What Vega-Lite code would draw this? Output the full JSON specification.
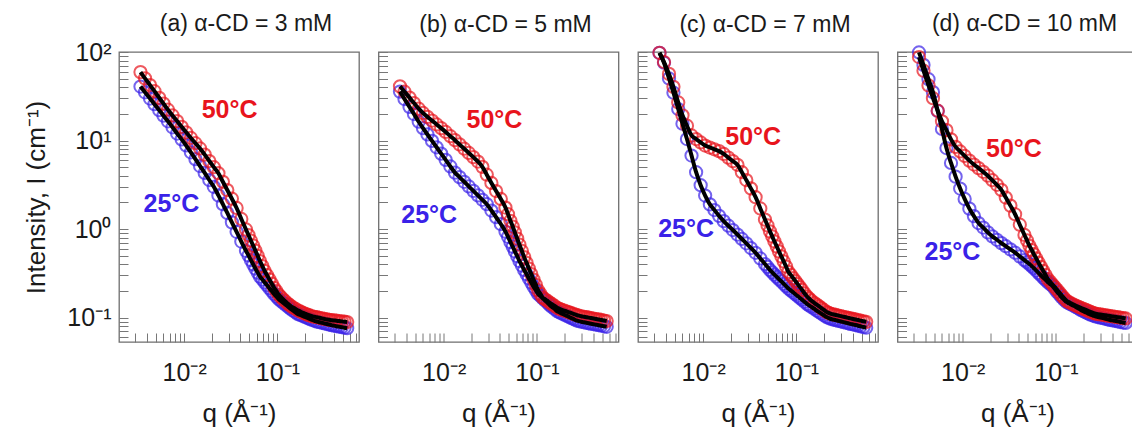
{
  "$schema": "https://vega.github.io/schema/vega-lite/v6.json",
  "background": "white",
  "padding": {"left": 23, "top": 12, "right": 0, "bottom": 0},
  "bounds": "flush",
  "spacing": 19.5,
  "config": {
    "font": "Liberation Sans",
    "view": {"stroke": "#6e6e6e", "strokeWidth": 1.3},
    "axis": {
      "domain": false,
      "grid": false,
      "tickColor": "#777777",
      "tickWidth": 1,
      "labelFont": "Liberation Sans",
      "labelFontSize": 25,
      "labelColor": "#1a1a1a",
      "labelOverlap": false,
      "labelFlush": false,
      "titleFont": "Liberation Sans",
      "titleFontSize": 26,
      "titleFontWeight": "normal",
      "titleColor": "#1a1a1a"
    },
    "title": {"font": "Liberation Sans", "fontSize": 23, "fontWeight": "normal", "color": "#1a1a1a", "dx": 7}
  },
  "datasets": {
    "notes": [
      {"p": "a", "T": "50", "label": "50°C", "q": 0.0307, "I": 22.1},
      {"p": "a", "T": "25", "label": "25°C", "q": 0.0073, "I": 1.92},
      {"p": "b", "T": "50", "label": "50°C", "q": 0.035, "I": 16.9},
      {"p": "b", "T": "25", "label": "25°C", "q": 0.007, "I": 1.43},
      {"p": "c", "T": "50", "label": "50°C", "q": 0.0344, "I": 10.9},
      {"p": "c", "T": "25", "label": "25°C", "q": 0.00656, "I": 1.01},
      {"p": "d", "T": "50", "label": "50°C", "q": 0.0355, "I": 8.09},
      {"p": "d", "T": "25", "label": "25°C", "q": 0.00776, "I": 0.553}
    ],
    "a50": [
      {"q":0.0034,"I":59.3},{"q":0.0038,"I":50.4},{"q":0.0043,"I":42.3},{"q":0.0048,"I":36.1},{"q":0.0054,"I":30.4},
      {"q":0.006,"I":26.1},{"q":0.0067,"I":22.3},{"q":0.0075,"I":19.2},{"q":0.0084,"I":16.6},{"q":0.0094,"I":14.3},
      {"q":0.0105,"I":12.4},{"q":0.0118,"I":10.7},{"q":0.0132,"I":9.33},{"q":0.0148,"I":8.13},{"q":0.0166,"I":6.93},
      {"q":0.0186,"I":5.87},{"q":0.0208,"I":5.0},{"q":0.0233,"I":4.27},{"q":0.026,"I":3.42},{"q":0.029,"I":2.76},
      {"q":0.0325,"I":2.2},{"q":0.0365,"I":1.73},{"q":0.041,"I":1.3},{"q":0.046,"I":0.989},{"q":0.049,"I":0.854},
      {"q":0.052,"I":0.738},{"q":0.055,"I":0.649},{"q":0.058,"I":0.571},{"q":0.0615,"I":0.498},{"q":0.065,"I":0.435},
      {"q":0.069,"I":0.382},{"q":0.073,"I":0.336},{"q":0.0775,"I":0.301},{"q":0.082,"I":0.27},{"q":0.087,"I":0.242},
      {"q":0.092,"I":0.217},{"q":0.0975,"I":0.199},{"q":0.103,"I":0.182},{"q":0.109,"I":0.171},{"q":0.115,"I":0.161},
      {"q":0.122,"I":0.152},{"q":0.13,"I":0.143},{"q":0.137,"I":0.137},{"q":0.145,"I":0.131},{"q":0.155,"I":0.126},
      {"q":0.165,"I":0.121},{"q":0.175,"I":0.1175},{"q":0.185,"I":0.114},{"q":0.197,"I":0.111},{"q":0.21,"I":0.108},
      {"q":0.222,"I":0.1057},{"q":0.235,"I":0.1035},{"q":0.25,"I":0.1022},{"q":0.265,"I":0.101},{"q":0.282,"I":0.0995},
      {"q":0.3,"I":0.098},{"q":0.32,"I":0.0966},{"q":0.34,"I":0.0953},{"q":0.36,"I":0.0944},{"q":0.38,"I":0.0935},
      {"q":0.405,"I":0.0928},{"q":0.43,"I":0.0922},{"q":0.46,"I":0.0914},{"q":0.49,"I":0.0906},{"q":0.525,"I":0.0898},
      {"q":0.56,"I":0.0891}
    ],
    "a25": [
      {"q":0.0034,"I":40.7},{"q":0.0038,"I":35.1},{"q":0.0043,"I":29.8},{"q":0.0048,"I":25.7},{"q":0.0054,"I":22.0},
      {"q":0.006,"I":19.1},{"q":0.0067,"I":16.5},{"q":0.0075,"I":14.1},{"q":0.0084,"I":12.0},{"q":0.0094,"I":10.3},
      {"q":0.0105,"I":8.79},{"q":0.0118,"I":7.36},{"q":0.0132,"I":6.17},{"q":0.0148,"I":5.15},{"q":0.0166,"I":4.3},
      {"q":0.0186,"I":3.58},{"q":0.0208,"I":3.0},{"q":0.0233,"I":2.4},{"q":0.026,"I":1.91},{"q":0.029,"I":1.52},
      {"q":0.0325,"I":1.19},{"q":0.0365,"I":0.931},{"q":0.041,"I":0.723},{"q":0.046,"I":0.568},{"q":0.049,"I":0.503},
      {"q":0.052,"I":0.445},{"q":0.055,"I":0.399},{"q":0.058,"I":0.358},{"q":0.0615,"I":0.322},{"q":0.065,"I":0.29},
      {"q":0.069,"I":0.269},{"q":0.073,"I":0.25},{"q":0.0775,"I":0.232},{"q":0.082,"I":0.215},{"q":0.087,"I":0.1994},
      {"q":0.092,"I":0.185},{"q":0.0975,"I":0.173},{"q":0.103,"I":0.162},{"q":0.109,"I":0.154},{"q":0.115,"I":0.147},
      {"q":0.122,"I":0.14},{"q":0.13,"I":0.133},{"q":0.137,"I":0.127},{"q":0.145,"I":0.121},{"q":0.155,"I":0.1154},
      {"q":0.165,"I":0.11},{"q":0.175,"I":0.1073},{"q":0.185,"I":0.1047},{"q":0.197,"I":0.1018},{"q":0.21,"I":0.0989},
      {"q":0.222,"I":0.0964},{"q":0.235,"I":0.094},{"q":0.25,"I":0.092},{"q":0.265,"I":0.09},{"q":0.282,"I":0.0886},
      {"q":0.3,"I":0.0873},{"q":0.32,"I":0.0859},{"q":0.34,"I":0.0846},{"q":0.36,"I":0.0834},{"q":0.38,"I":0.0822},
      {"q":0.405,"I":0.0811},{"q":0.43,"I":0.08},{"q":0.46,"I":0.079},{"q":0.49,"I":0.078},{"q":0.525,"I":0.0769},
      {"q":0.56,"I":0.0759}
    ],
    "b50": [
      {"q":0.0034,"I":40.9},{"q":0.0038,"I":35.6},{"q":0.0043,"I":30.5},{"q":0.0048,"I":26.5},{"q":0.0054,"I":22.9},
      {"q":0.006,"I":20.5},{"q":0.0067,"I":18.5},{"q":0.0075,"I":16.8},{"q":0.0084,"I":15.2},{"q":0.0094,"I":13.8},
      {"q":0.0105,"I":12.5},{"q":0.0118,"I":11.2},{"q":0.0132,"I":10.1},{"q":0.0148,"I":9.04},{"q":0.0166,"I":8.09},
      {"q":0.0186,"I":7.24},{"q":0.0208,"I":6.49},{"q":0.0233,"I":5.79},{"q":0.026,"I":5.04},{"q":0.029,"I":4.11},
      {"q":0.0325,"I":3.32},{"q":0.0365,"I":2.69},{"q":0.041,"I":2.19},{"q":0.046,"I":1.75},{"q":0.049,"I":1.473},
      {"q":0.052,"I":1.24},{"q":0.055,"I":1.067},{"q":0.058,"I":0.918},{"q":0.0615,"I":0.781},{"q":0.065,"I":0.665},
      {"q":0.069,"I":0.566},{"q":0.073,"I":0.482},{"q":0.0775,"I":0.415},{"q":0.082,"I":0.358},{"q":0.087,"I":0.31},
      {"q":0.092,"I":0.269},{"q":0.0975,"I":0.234},{"q":0.103,"I":0.204},{"q":0.109,"I":0.1857},{"q":0.115,"I":0.169},
      {"q":0.122,"I":0.1613},{"q":0.13,"I":0.154},{"q":0.137,"I":0.1479},{"q":0.145,"I":0.142},{"q":0.155,"I":0.1353},
      {"q":0.165,"I":0.129},{"q":0.175,"I":0.1255},{"q":0.185,"I":0.122},{"q":0.197,"I":0.1195},{"q":0.21,"I":0.117},
      {"q":0.222,"I":0.1145},{"q":0.235,"I":0.112},{"q":0.25,"I":0.1095},{"q":0.265,"I":0.107},{"q":0.282,"I":0.1052},
      {"q":0.3,"I":0.1035},{"q":0.32,"I":0.1022},{"q":0.34,"I":0.101},{"q":0.36,"I":0.0999},{"q":0.38,"I":0.0988},
      {"q":0.405,"I":0.0976},{"q":0.43,"I":0.0964},{"q":0.46,"I":0.0952},{"q":0.49,"I":0.094},{"q":0.525,"I":0.0927},
      {"q":0.56,"I":0.0915}
    ],
    "b25": [
      {"q":0.0034,"I":35.7},{"q":0.0038,"I":29.4},{"q":0.0043,"I":24.0},{"q":0.0048,"I":19.9},{"q":0.0054,"I":16.3},
      {"q":0.006,"I":13.8},{"q":0.0067,"I":11.7},{"q":0.0075,"I":9.91},{"q":0.0084,"I":8.39},{"q":0.0094,"I":7.11},
      {"q":0.0105,"I":6.05},{"q":0.0118,"I":5.09},{"q":0.0132,"I":4.34},{"q":0.0148,"I":3.86},{"q":0.0166,"I":3.42},
      {"q":0.0186,"I":3.03},{"q":0.0208,"I":2.7},{"q":0.0233,"I":2.4},{"q":0.026,"I":2.14},{"q":0.029,"I":1.91},
      {"q":0.0325,"I":1.62},{"q":0.0365,"I":1.36},{"q":0.041,"I":1.14},{"q":0.046,"I":0.936},{"q":0.049,"I":0.817},
      {"q":0.052,"I":0.713},{"q":0.055,"I":0.632},{"q":0.058,"I":0.561},{"q":0.0615,"I":0.494},{"q":0.065,"I":0.435},
      {"q":0.069,"I":0.387},{"q":0.073,"I":0.345},{"q":0.0775,"I":0.309},{"q":0.082,"I":0.277},{"q":0.087,"I":0.2485},
      {"q":0.092,"I":0.223},{"q":0.0975,"I":0.203},{"q":0.103,"I":0.185},{"q":0.109,"I":0.175},{"q":0.115,"I":0.166},
      {"q":0.122,"I":0.156},{"q":0.13,"I":0.147},{"q":0.137,"I":0.139},{"q":0.145,"I":0.132},{"q":0.155,"I":0.125},
      {"q":0.165,"I":0.118},{"q":0.175,"I":0.1144},{"q":0.185,"I":0.111},{"q":0.197,"I":0.1077},{"q":0.21,"I":0.1045},
      {"q":0.222,"I":0.1016},{"q":0.235,"I":0.0987},{"q":0.25,"I":0.0958},{"q":0.265,"I":0.0929},{"q":0.282,"I":0.0912},
      {"q":0.3,"I":0.0896},{"q":0.32,"I":0.0884},{"q":0.34,"I":0.0873},{"q":0.36,"I":0.0863},{"q":0.38,"I":0.0853},
      {"q":0.405,"I":0.0842},{"q":0.43,"I":0.0832},{"q":0.46,"I":0.0821},{"q":0.49,"I":0.081},{"q":0.525,"I":0.0798},
      {"q":0.56,"I":0.0787}
    ],
    "c50": [
      {"q":0.0034,"I":98},{"q":0.0038,"I":77.1},{"q":0.0043,"I":56.6},{"q":0.0048,"I":40.4},{"q":0.0054,"I":26.9},
      {"q":0.006,"I":19.3},{"q":0.0067,"I":14.7},{"q":0.0075,"I":11.4},{"q":0.0084,"I":10.4},{"q":0.0094,"I":9.51},
      {"q":0.0105,"I":8.77},{"q":0.0118,"I":8.34},{"q":0.0132,"I":7.96},{"q":0.0148,"I":7.59},{"q":0.0166,"I":7.05},
      {"q":0.0186,"I":6.41},{"q":0.0208,"I":5.85},{"q":0.0233,"I":5.32},{"q":0.026,"I":4.39},{"q":0.029,"I":3.58},
      {"q":0.0325,"I":2.88},{"q":0.0365,"I":2.29},{"q":0.041,"I":1.71},{"q":0.046,"I":1.28},{"q":0.049,"I":1.098},
      {"q":0.052,"I":0.942},{"q":0.055,"I":0.828},{"q":0.058,"I":0.728},{"q":0.0615,"I":0.638},{"q":0.065,"I":0.56},
      {"q":0.069,"I":0.491},{"q":0.073,"I":0.431},{"q":0.0775,"I":0.377},{"q":0.082,"I":0.329},{"q":0.087,"I":0.304},
      {"q":0.092,"I":0.28},{"q":0.0975,"I":0.259},{"q":0.103,"I":0.239},{"q":0.109,"I":0.221},{"q":0.115,"I":0.205},
      {"q":0.122,"I":0.188},{"q":0.13,"I":0.173},{"q":0.137,"I":0.164},{"q":0.145,"I":0.155},{"q":0.155,"I":0.147},
      {"q":0.165,"I":0.14},{"q":0.175,"I":0.134},{"q":0.185,"I":0.128},{"q":0.197,"I":0.122},{"q":0.21,"I":0.116},
      {"q":0.222,"I":0.113},{"q":0.235,"I":0.11},{"q":0.25,"I":0.1085},{"q":0.265,"I":0.107},{"q":0.282,"I":0.1054},
      {"q":0.3,"I":0.1038},{"q":0.32,"I":0.1022},{"q":0.34,"I":0.1007},{"q":0.36,"I":0.0993},{"q":0.38,"I":0.098},
      {"q":0.405,"I":0.0966},{"q":0.43,"I":0.0953},{"q":0.46,"I":0.0938},{"q":0.49,"I":0.0923},{"q":0.525,"I":0.0909},
      {"q":0.56,"I":0.0895}
    ],
    "c25": [
      {"q":0.0034,"I":97.7},{"q":0.0038,"I":75.7},{"q":0.0043,"I":50.2},{"q":0.0048,"I":34.7},{"q":0.0054,"I":22.7},
      {"q":0.006,"I":15.5},{"q":0.0067,"I":10.4},{"q":0.0075,"I":6.76},{"q":0.0084,"I":4.39},{"q":0.0094,"I":3.13},
      {"q":0.0105,"I":2.39},{"q":0.0118,"I":1.9},{"q":0.0132,"I":1.64},{"q":0.0148,"I":1.41},{"q":0.0166,"I":1.23},
      {"q":0.0186,"I":1.09},{"q":0.0208,"I":0.975},{"q":0.0233,"I":0.867},{"q":0.026,"I":0.773},{"q":0.029,"I":0.69},
      {"q":0.0325,"I":0.611},{"q":0.0365,"I":0.539},{"q":0.041,"I":0.466},{"q":0.046,"I":0.403},{"q":0.049,"I":0.373},
      {"q":0.052,"I":0.345},{"q":0.055,"I":0.325},{"q":0.058,"I":0.306},{"q":0.0615,"I":0.2885},{"q":0.065,"I":0.272},
      {"q":0.069,"I":0.256},{"q":0.073,"I":0.241},{"q":0.0775,"I":0.2266},{"q":0.082,"I":0.213},{"q":0.087,"I":0.2028},
      {"q":0.092,"I":0.193},{"q":0.0975,"I":0.1838},{"q":0.103,"I":0.175},{"q":0.109,"I":0.1668},{"q":0.115,"I":0.159},
      {"q":0.122,"I":0.1508},{"q":0.13,"I":0.143},{"q":0.137,"I":0.1374},{"q":0.145,"I":0.132},{"q":0.155,"I":0.1259},
      {"q":0.165,"I":0.12},{"q":0.175,"I":0.1154},{"q":0.185,"I":0.111},{"q":0.197,"I":0.1062},{"q":0.21,"I":0.1016},
      {"q":0.222,"I":0.099},{"q":0.235,"I":0.0964},{"q":0.25,"I":0.0949},{"q":0.265,"I":0.0935},{"q":0.282,"I":0.0919},
      {"q":0.3,"I":0.0904},{"q":0.32,"I":0.0889},{"q":0.34,"I":0.0875},{"q":0.36,"I":0.0862},{"q":0.38,"I":0.0849},
      {"q":0.405,"I":0.0836},{"q":0.43,"I":0.0824},{"q":0.46,"I":0.081},{"q":0.49,"I":0.0796},{"q":0.525,"I":0.0782},
      {"q":0.56,"I":0.0769}
    ],
    "d50": [
      {"q":0.0034,"I":87.7},{"q":0.0038,"I":61.5},{"q":0.0043,"I":41.9},{"q":0.0048,"I":30.1},{"q":0.0054,"I":21.7},
      {"q":0.006,"I":16.5},{"q":0.0067,"I":13.1},{"q":0.0075,"I":10.3},{"q":0.0084,"I":8.48},{"q":0.0094,"I":7.53},
      {"q":0.0105,"I":6.7},{"q":0.0118,"I":5.93},{"q":0.0132,"I":5.36},{"q":0.0148,"I":4.88},{"q":0.0166,"I":4.43},
      {"q":0.0186,"I":4.01},{"q":0.0208,"I":3.56},{"q":0.0233,"I":3.16},{"q":0.026,"I":2.77},{"q":0.029,"I":2.27},
      {"q":0.0325,"I":1.84},{"q":0.0365,"I":1.47},{"q":0.041,"I":1.12},{"q":0.046,"I":0.857},{"q":0.049,"I":0.744},
      {"q":0.052,"I":0.646},{"q":0.055,"I":0.58},{"q":0.058,"I":0.52},{"q":0.0615,"I":0.466},{"q":0.065,"I":0.418},
      {"q":0.069,"I":0.375},{"q":0.073,"I":0.337},{"q":0.0775,"I":0.303},{"q":0.082,"I":0.272},{"q":0.087,"I":0.2534},
      {"q":0.092,"I":0.236},{"q":0.0975,"I":0.2205},{"q":0.103,"I":0.206},{"q":0.109,"I":0.192},{"q":0.115,"I":0.179},
      {"q":0.122,"I":0.1666},{"q":0.13,"I":0.155},{"q":0.137,"I":0.15},{"q":0.145,"I":0.145},{"q":0.155,"I":0.1404},
      {"q":0.165,"I":0.136},{"q":0.175,"I":0.1325},{"q":0.185,"I":0.129},{"q":0.197,"I":0.1254},{"q":0.21,"I":0.122},
      {"q":0.222,"I":0.119},{"q":0.235,"I":0.116},{"q":0.25,"I":0.1133},{"q":0.265,"I":0.1107},{"q":0.282,"I":0.1095},
      {"q":0.3,"I":0.1084},{"q":0.32,"I":0.1073},{"q":0.34,"I":0.1062},{"q":0.36,"I":0.1052},{"q":0.38,"I":0.1042},
      {"q":0.405,"I":0.1031},{"q":0.43,"I":0.102},{"q":0.46,"I":0.101},{"q":0.49,"I":0.1},{"q":0.525,"I":0.0988},
      {"q":0.56,"I":0.0977}
    ],
    "d25": [
      {"q":0.0034,"I":98.9},{"q":0.0038,"I":71.5},{"q":0.0043,"I":49.3},{"q":0.0048,"I":35.2},{"q":0.0054,"I":21.6},
      {"q":0.006,"I":13.5},{"q":0.0067,"I":8.22},{"q":0.0075,"I":5.58},{"q":0.0084,"I":3.91},{"q":0.0094,"I":2.87},
      {"q":0.0105,"I":2.19},{"q":0.0118,"I":1.7},{"q":0.0132,"I":1.4},{"q":0.0148,"I":1.17},{"q":0.0166,"I":1.04},
      {"q":0.0186,"I":0.918},{"q":0.0208,"I":0.826},{"q":0.0233,"I":0.757},{"q":0.026,"I":0.693},{"q":0.029,"I":0.64},
      {"q":0.0325,"I":0.589},{"q":0.0365,"I":0.541},{"q":0.041,"I":0.49},{"q":0.046,"I":0.445},{"q":0.049,"I":0.423},
      {"q":0.052,"I":0.402},{"q":0.055,"I":0.381},{"q":0.058,"I":0.361},{"q":0.0615,"I":0.34},{"q":0.065,"I":0.32},
      {"q":0.069,"I":0.301},{"q":0.073,"I":0.283},{"q":0.0775,"I":0.2665},{"q":0.082,"I":0.251},{"q":0.087,"I":0.2387},
      {"q":0.092,"I":0.227},{"q":0.0975,"I":0.2104},{"q":0.103,"I":0.195},{"q":0.109,"I":0.182},{"q":0.115,"I":0.17},
      {"q":0.122,"I":0.1597},{"q":0.13,"I":0.15},{"q":0.137,"I":0.1454},{"q":0.145,"I":0.141},{"q":0.155,"I":0.1359},
      {"q":0.165,"I":0.131},{"q":0.175,"I":0.1264},{"q":0.185,"I":0.122},{"q":0.197,"I":0.1179},{"q":0.21,"I":0.114},
      {"q":0.222,"I":0.111},{"q":0.235,"I":0.108},{"q":0.25,"I":0.1055},{"q":0.265,"I":0.103},{"q":0.282,"I":0.1015},
      {"q":0.3,"I":0.1},{"q":0.32,"I":0.0985},{"q":0.34,"I":0.097},{"q":0.36,"I":0.0955},{"q":0.38,"I":0.094},
      {"q":0.405,"I":0.093},{"q":0.43,"I":0.092},{"q":0.46,"I":0.0905},{"q":0.49,"I":0.089},{"q":0.525,"I":0.088},
      {"q":0.56,"I":0.087}
    ]
  },
  "hconcat": [
    {
      "width": 240, "height": 290,
      "title": {"text": "(a) α-CD = 3 mM", "offset": 4},
      "encoding": {
        "x": {"field": "q", "type": "quantitative", "scale": {"type": "log", "domain": [0.002, 0.75]},
          "axis": {"values": [0.003,0.004,0.005,0.006,0.007,0.008,0.009,0.01,0.02,0.03,0.04,0.05,0.06,0.07,0.08,0.09,0.1,0.2,0.3,0.4,0.5,0.6,0.7],
            "labelExpr": "datum.value == 0.01 ? '10⁻²' : datum.value == 0.1 ? '10⁻¹' : ''",
            "tickSize": -9, "labelPadding": 27, "title": "q (Å⁻¹)", "titlePadding": 15,
            "encode": {"ticks": {"y2": {"condition": {"test": "datum.value == 0.01 || datum.value == 0.1", "value": -18}, "value": -9}}}}},
        "y": {"field": "I", "type": "quantitative", "scale": {"type": "log", "domain": [0.053, 100]},
          "axis": {"values": [0.06,0.07,0.08,0.09,0.1,0.2,0.3,0.4,0.5,0.6,0.7,0.8,0.9,1,2,3,4,5,6,7,8,9,10,20,30,40,50,60,70,80,90,100],
            "labelExpr": "datum.value == 100 ? '10²' : datum.value == 10 ? '10¹' : datum.value == 1 ? '10⁰' : datum.value == 0.1 ? '10⁻¹' : ''",
            "tickSize": -9, "labelPadding": 17, "title": "Intensity, I (cm⁻¹)", "titlePadding": 17,
            "encode": {"ticks": {"x2": {"condition": {"test": "datum.value == 0.1 || datum.value == 1 || datum.value == 10 || datum.value == 100", "value": 19}, "value": 9}}}}}
      },
      "layer": [
        {"data": {"name": "a25"}, "mark": {"type": "point", "shape": "circle", "filled": false, "size": 150, "strokeWidth": 2, "color": "#3a22e8"}},
        {"data": {"name": "a50"}, "mark": {"type": "point", "shape": "circle", "filled": false, "size": 150, "strokeWidth": 2, "color": "#e8141c"}},
        {"data": {"name": "a25"}, "mark": {"type": "line", "color": "#000000", "strokeWidth": 4, "interpolate": "monotone"}},
        {"data": {"name": "a50"}, "mark": {"type": "line", "color": "#000000", "strokeWidth": 4, "interpolate": "monotone"}},
        {"data": {"name": "notes"}, "transform": [{"filter": "datum.p == 'a'"}],
          "mark": {"type": "text", "fontSize": 25, "fontWeight": "bold"},
          "encoding": {"text": {"field": "label"},
            "color": {"field": "T", "type": "nominal", "scale": {"domain": ["25", "50"], "range": ["#3a22e8", "#e8141c"]}, "legend": null}}}
      ]
    },
    {
      "width": 240, "height": 290,
      "title": {"text": "(b) α-CD = 5 mM", "offset": 15},
      "encoding": {
        "x": {"field": "q", "type": "quantitative", "scale": {"type": "log", "domain": [0.002, 0.75]},
          "axis": {"values": [0.003,0.004,0.005,0.006,0.007,0.008,0.009,0.01,0.02,0.03,0.04,0.05,0.06,0.07,0.08,0.09,0.1,0.2,0.3,0.4,0.5,0.6,0.7],
            "labelExpr": "datum.value == 0.01 ? '10⁻²' : datum.value == 0.1 ? '10⁻¹' : ''",
            "tickSize": -9, "labelPadding": 27, "title": "q (Å⁻¹)", "titlePadding": 15,
            "encode": {"ticks": {"y2": {"condition": {"test": "datum.value == 0.01 || datum.value == 0.1", "value": -18}, "value": -9}}}}},
        "y": {"field": "I", "type": "quantitative", "scale": {"type": "log", "domain": [0.053, 100]},
          "axis": {"values": [0.06,0.07,0.08,0.09,0.1,0.2,0.3,0.4,0.5,0.6,0.7,0.8,0.9,1,2,3,4,5,6,7,8,9,10,20,30,40,50,60,70,80,90,100],
            "labels": false, "tickSize": -9, "title": null,
            "encode": {"ticks": {"x2": {"condition": {"test": "datum.value == 0.1 || datum.value == 1 || datum.value == 10 || datum.value == 100", "value": 19}, "value": 9}}}}}
      },
      "layer": [
        {"data": {"name": "b25"}, "mark": {"type": "point", "shape": "circle", "filled": false, "size": 150, "strokeWidth": 2, "color": "#3a22e8"}},
        {"data": {"name": "b50"}, "mark": {"type": "point", "shape": "circle", "filled": false, "size": 150, "strokeWidth": 2, "color": "#e8141c"}},
        {"data": {"name": "b25"}, "mark": {"type": "line", "color": "#000000", "strokeWidth": 4, "interpolate": "monotone"}},
        {"data": {"name": "b50"}, "mark": {"type": "line", "color": "#000000", "strokeWidth": 4, "interpolate": "monotone"}},
        {"data": {"name": "notes"}, "transform": [{"filter": "datum.p == 'b'"}],
          "mark": {"type": "text", "fontSize": 25, "fontWeight": "bold"},
          "encoding": {"text": {"field": "label"},
            "color": {"field": "T", "type": "nominal", "scale": {"domain": ["25", "50"], "range": ["#3a22e8", "#e8141c"]}, "legend": null}}}
      ]
    },
    {
      "width": 240, "height": 290,
      "title": {"text": "(c) α-CD = 7 mM", "offset": 6},
      "encoding": {
        "x": {"field": "q", "type": "quantitative", "scale": {"type": "log", "domain": [0.002, 0.75]},
          "axis": {"values": [0.003,0.004,0.005,0.006,0.007,0.008,0.009,0.01,0.02,0.03,0.04,0.05,0.06,0.07,0.08,0.09,0.1,0.2,0.3,0.4,0.5,0.6,0.7],
            "labelExpr": "datum.value == 0.01 ? '10⁻²' : datum.value == 0.1 ? '10⁻¹' : ''",
            "tickSize": -9, "labelPadding": 27, "title": "q (Å⁻¹)", "titlePadding": 15,
            "encode": {"ticks": {"y2": {"condition": {"test": "datum.value == 0.01 || datum.value == 0.1", "value": -18}, "value": -9}}}}},
        "y": {"field": "I", "type": "quantitative", "scale": {"type": "log", "domain": [0.053, 100]},
          "axis": {"values": [0.06,0.07,0.08,0.09,0.1,0.2,0.3,0.4,0.5,0.6,0.7,0.8,0.9,1,2,3,4,5,6,7,8,9,10,20,30,40,50,60,70,80,90,100],
            "labels": false, "tickSize": -9, "title": null,
            "encode": {"ticks": {"x2": {"condition": {"test": "datum.value == 0.1 || datum.value == 1 || datum.value == 10 || datum.value == 100", "value": 19}, "value": 9}}}}}
      },
      "layer": [
        {"data": {"name": "c25"}, "mark": {"type": "point", "shape": "circle", "filled": false, "size": 150, "strokeWidth": 2, "color": "#3a22e8"}},
        {"data": {"name": "c50"}, "mark": {"type": "point", "shape": "circle", "filled": false, "size": 150, "strokeWidth": 2, "color": "#e8141c"}},
        {"data": {"name": "c25"}, "mark": {"type": "line", "color": "#000000", "strokeWidth": 4, "interpolate": "monotone"}},
        {"data": {"name": "c50"}, "mark": {"type": "line", "color": "#000000", "strokeWidth": 4, "interpolate": "monotone"}},
        {"data": {"name": "notes"}, "transform": [{"filter": "datum.p == 'c'"}],
          "mark": {"type": "text", "fontSize": 25, "fontWeight": "bold"},
          "encoding": {"text": {"field": "label"},
            "color": {"field": "T", "type": "nominal", "scale": {"domain": ["25", "50"], "range": ["#3a22e8", "#e8141c"]}, "legend": null}}}
      ]
    },
    {
      "width": 240, "height": 290,
      "title": {"text": "(d) α-CD = 10 mM", "offset": 6},
      "encoding": {
        "x": {"field": "q", "type": "quantitative", "scale": {"type": "log", "domain": [0.002, 0.75]},
          "axis": {"values": [0.003,0.004,0.005,0.006,0.007,0.008,0.009,0.01,0.02,0.03,0.04,0.05,0.06,0.07,0.08,0.09,0.1,0.2,0.3,0.4,0.5,0.6,0.7],
            "labelExpr": "datum.value == 0.01 ? '10⁻²' : datum.value == 0.1 ? '10⁻¹' : ''",
            "tickSize": -9, "labelPadding": 27, "title": "q (Å⁻¹)", "titlePadding": 15,
            "encode": {"ticks": {"y2": {"condition": {"test": "datum.value == 0.01 || datum.value == 0.1", "value": -18}, "value": -9}}}}},
        "y": {"field": "I", "type": "quantitative", "scale": {"type": "log", "domain": [0.053, 100]},
          "axis": {"values": [0.06,0.07,0.08,0.09,0.1,0.2,0.3,0.4,0.5,0.6,0.7,0.8,0.9,1,2,3,4,5,6,7,8,9,10,20,30,40,50,60,70,80,90,100],
            "labels": false, "tickSize": -9, "title": null,
            "encode": {"ticks": {"x2": {"condition": {"test": "datum.value == 0.1 || datum.value == 1 || datum.value == 10 || datum.value == 100", "value": 19}, "value": 9}}}}}
      },
      "layer": [
        {"data": {"name": "d25"}, "mark": {"type": "point", "shape": "circle", "filled": false, "size": 150, "strokeWidth": 2, "color": "#3a22e8"}},
        {"data": {"name": "d50"}, "mark": {"type": "point", "shape": "circle", "filled": false, "size": 150, "strokeWidth": 2, "color": "#e8141c"}},
        {"data": {"name": "d25"}, "mark": {"type": "line", "color": "#000000", "strokeWidth": 4, "interpolate": "monotone"}},
        {"data": {"name": "d50"}, "mark": {"type": "line", "color": "#000000", "strokeWidth": 4, "interpolate": "monotone"}},
        {"data": {"name": "notes"}, "transform": [{"filter": "datum.p == 'd'"}],
          "mark": {"type": "text", "fontSize": 25, "fontWeight": "bold"},
          "encoding": {"text": {"field": "label"},
            "color": {"field": "T", "type": "nominal", "scale": {"domain": ["25", "50"], "range": ["#3a22e8", "#e8141c"]}, "legend": null}}}
      ]
    }
  ]
}
